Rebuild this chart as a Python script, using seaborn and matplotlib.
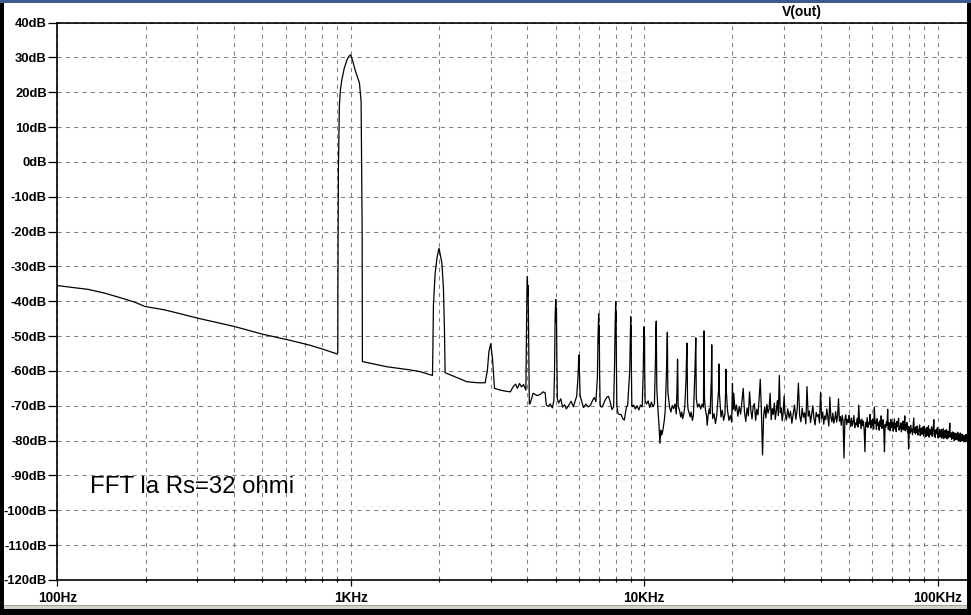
import numpy as np
import pandas as pd
import matplotlib
matplotlib.use("Agg")
import matplotlib.pyplot as plt
from matplotlib.patches import Rectangle
from matplotlib.ticker import FixedLocator, NullFormatter
import seaborn as sns

# ---------------- data ----------------
# low / mid frequency part : frequency (Hz) and level (dB)
low_freq = [100, 127.6, 145.4, 165.8, 184, 199, 233, 302.6, 403.6, 497.6, 613, 717.5, 807, 896.6,
            903.6, 904.3, 907.8, 915, 922, 932.6, 950, 970, 985, 1000, 1015, 1035, 1055, 1071, 1085, 1094, 1096,
            1327, 1594, 1724, 1899, 1905, 1914, 1940, 1971, 2000, 2045, 2070, 2087, 2098,
            2126, 2488, 2719, 2872, 2924, 2957, 3000, 3045, 3075, 3090,
            3232, 3366, 3500, 3580, 3647, 3700, 3760, 3820, 3880, 3954,
            3970, 3985, 4000, 4012, 4022, 4035, 4050, 4062,
            4090, 4186, 4321, 4425, 4530, 4600, 4640, 4716, 4790, 4866, 4925,
            4950, 4975, 5000, 5012, 5025, 5040, 5060,
            5110, 5200, 5270, 5360, 5430, 5530, 5640, 5740, 5830, 5890,
            5950, 5980, 6000, 6020, 6050,
            6100, 6215, 6330, 6450, 6570, 6670, 6760, 6850,
            6930, 6965, 7000, 7015, 7030, 7050, 7080,
            7120, 7205, 7350, 7470, 7560, 7660, 7770, 7870,
            7930, 7965, 8000, 8012, 8025, 8040, 8070,
            8150, 8250, 8350, 8460, 8560, 8620, 8700, 8790,
            8930, 8970, 9000, 9015, 9030, 9050, 9080,
            9100, 9210, 9330, 9460, 9590, 9720, 9850,
            9930, 9965, 10000, 10015, 10030, 10050,
            10080, 10190, 10320, 10450, 10590, 10720, 10840,
            10930, 10965, 11000, 11020, 11045,
            11150, 11240, 11320, 11400, 11480, 11560, 11720, 11800,
            11920, 12000, 12020, 12045,
            12210, 12340, 12470, 12600, 12740, 12870,
            12950, 13000, 13030, 13060,
            13200, 13330, 13430, 13530, 13660, 13760,
            13900, 13950, 14000, 14030, 14060,
            14120, 14350, 14460, 14600, 14720,
            14900, 15000, 15030, 15060,
            15210, 15400, 15590, 15760, 15930,
            15960, 16000, 16030, 16060,
            16190, 16320, 16400, 16520, 16650, 16780,
            16950, 17000, 17030, 17060,
            17130, 17310, 17500, 17680,
            17950, 18000, 18040,
            18280, 18460, 18660, 18860,
            18950, 19000, 19040,
            19240, 19460, 19670, 19880, 20000, 20080]
low_db = [-35.5, -36.6, -37.7, -39.1, -40.3, -41.5, -42.5, -44.9, -47.3, -49.4, -51.1, -52.5, -53.8, -55.1,
          -54.8, -37.2, -2.3, 16.3, 20.5, 23.5, 26.8, 29.2, 30.3, 30.7, 29.0, 26.4, 24.3, 22.6, 17.3, -20.4, -57.3,
          -58.8, -59.7, -60.2, -61.3, -54.8, -41.1, -31.9, -27.2, -24.8, -29.0, -36.2, -48.2, -60.5,
          -60.7, -63.1, -63.4, -63.4, -59.7, -54.5, -52.2, -56.8, -62.6, -65.0,
          -65.5, -65.8, -66.0, -64.5, -63.8, -65.0, -63.6, -64.6, -63.9, -65.5,
          -50, -38, -32.9, -38.5, -35.5, -45, -60, -69.5,
          -69.3, -66.4, -67.1, -66.7, -66.0, -66.3, -69.8, -70.2, -69.5, -70.6, -68.5,
          -60, -44, -39.5, -46, -42, -55, -68,
          -69.2, -68, -70.4, -69.7, -70.9, -69.9, -68.7, -70.3, -68.4, -67.3,
          -62, -57, -55.4, -60, -67,
          -68.2, -70.5, -69.5, -70.3, -69.8, -68.5, -67.6, -68.8,
          -62, -50, -43.6, -52, -47, -60, -69.5,
          -70.3, -70.3, -68.5, -67.5, -67.3, -68.8, -71.1, -70.3,
          -58, -47, -40.1, -46, -43, -55, -70,
          -72.3, -72.5, -72.5, -73.7, -74.1, -72.5, -70.4, -69.8,
          -60, -50, -44.4, -50, -47, -60, -70,
          -70.3, -69.8, -70.9, -70.0, -71.2, -69.8, -70.3,
          -60, -52, -47.3, -53, -50, -62,
          -68.6, -69.5, -68.6, -70.5, -69.0, -70.3, -69.5,
          -57, -48, -45.7, -55, -65,
          -71.3, -75.6, -80.8, -77.0, -78.4, -77.5, -74.1, -71.3,
          -60, -48.9, -56, -66,
          -70.4, -71.8, -69.9, -70.8, -69.5, -72.3,
          -64, -56.6, -62, -70,
          -71.3, -73.2, -71.8, -73.7, -72.3, -70.1,
          -62, -56, -52, -60, -69,
          -71, -73.2, -71.8, -74.2, -72.8,
          -60, -50.5, -58, -68,
          -70.4, -69.5, -70.9, -69.5, -70.4,
          -58, -48.5, -56, -68,
          -71.3, -72.8, -75.6, -72.8, -70.9, -72.3,
          -62, -52.5, -60, -70,
          -73.7, -72.3, -75.1, -72.8,
          -65, -58, -66,
          -73.2, -71.3, -74.2, -72.3,
          -66, -59.5, -65,
          -71.3, -74.2, -72.8, -74.7, -63.6, -71]

# high frequency noise floor, linear FFT bins between start/stop (Hz)
seg1_range = (20200, 30000)
seg1_db = [-66.4, -71.5, -69.8, -73.0, -70.2, -72.4, -68.9, -65.0, -71.8, -74.5, -70.6, -72.9,
           -66.0, -71.2, -73.8, -70.1, -69.4, -74.2, -71.0, -72.6, -68.0, -62.4, -71.5, -84.1,
           -72.8, -70.3, -73.5, -69.6, -72.1, -71.0, -66.4, -74.0, -70.8, -72.5, -69.2, -73.9,
           -71.4, -68.5, -72.8, -61.3, -72.0, -70.6, -74.3, -71.9, -67.2]
seg2_range = (30200, 50000)
seg2_db = [-72.0, -74.1, -70.9, -73.5, -71.6, -75.0, -72.3, -69.8, -73.9, -71.2, -63.5, -72.8,
           -74.6, -70.7, -73.3, -72.0, -75.2, -64.5, -73.0, -71.5, -74.8, -72.4, -70.0, -73.7,
           -75.5, -71.9, -73.1, -72.5, -74.9, -66.1, -73.6, -71.8, -75.3, -72.9, -74.0, -70.9,
           -73.4, -75.8, -67.5, -73.2, -74.6, -72.1, -75.0, -73.8, -71.7, -74.7, -72.9, -68.0,
           -74.4, -73.1, -75.6, -72.8, -74.3, -85.0, -74.0, -72.6, -75.4, -73.9, -74.8, -72.7]
seg3_range = (50200, 80000)
seg3_db = [-74.2, -76.0, -73.5, -75.8, -74.6, -72.8, -76.3, -74.9, -75.5, -73.6,
           -76.1, -69.8, -75.0, -74.1, -76.6, -73.8, -75.7, -74.4, -76.9, -83.2,
           -74.8, -75.9, -73.4, -76.2, -74.7, -75.3, -72.5, -76.4, -74.2, -75.8,
           -73.9, -76.7, -70.5, -75.1, -74.5, -76.8, -73.7, -75.6, -74.9, -77.0,
           -74.3, -75.9, -72.9, -76.5, -75.0, -74.0, -77.1, -83.2, -75.4, -76.2,
           -74.6, -75.7, -71.0, -76.8, -74.8, -75.5, -77.2, -73.9, -76.3, -75.1,
           -74.7, -77.3, -75.8, -73.8, -76.6, -75.2, -77.4, -74.5, -76.0, -75.6,
           -73.6, -77.0, -75.9, -76.4, -74.9, -77.5, -75.3, -76.7, -74.4, -76.9,
           -75.7, -72.9, -77.2, -75.4, -76.8, -74.8, -77.6, -75.9, -82.4, -76.3]
seg4_range = (80200, 127000)
seg4_db = [-76.2, -77.9, -75.6, -77.4, -76.8, -78.3, -75.9, -73.5, -77.7, -76.5,
           -78.1, -76.0, -77.6, -75.8, -78.4, -76.9, -77.2, -75.5, -78.6, -77.0,
           -76.4, -78.2, -77.5, -76.1, -78.7, -75.9, -77.8, -76.6, -78.9, -77.3,
           -76.2, -78.5, -77.0, -75.7, -79.0, -77.6, -76.8, -78.3, -77.1, -76.0,
           -78.8, -77.4, -76.5, -74.0, -78.6, -77.2, -79.1, -76.9, -78.0, -77.5,
           -76.3, -79.2, -77.8, -78.4, -76.7, -79.0, -77.3, -78.6, -76.8, -79.3,
           -77.9, -78.2, -76.6, -79.4, -77.7, -78.9, -77.0, -79.1, -78.3, -76.9,
           -79.5, -78.0, -77.4, -79.2, -78.6, -77.1, -75.0, -79.0, -78.1, -77.8,
           -79.6, -78.4, -77.5, -79.3, -78.8, -77.7, -80.0, -78.2, -79.1, -77.9,
           -79.7, -78.5, -78.0, -79.8, -77.6, -79.4, -78.7, -80.1, -78.3, -79.0,
           -77.8, -80.2, -78.9, -79.5, -78.1, -80.0, -79.2, -78.4, -80.3, -78.8,
           -79.6, -78.6, -80.4, -79.0, -78.2, -80.1, -79.3, -78.9, -80.5, -79.4]

y_ticks = list(range(-120, 41, 10))
y_labels = [f"{v}dB" for v in y_ticks]
x_ticks = [100, 1000, 10000, 100000]
x_labels = ["100Hz", "1KHz", "10KHz", "100KHz"]
trace_name = "V(out)"
note_text = "FFT la Rs=32 ohmi"

# ---------------- assemble ----------------
freqs = list(low_freq)
dbs = list(low_db)
for rng, vals in [(seg1_range, seg1_db), (seg2_range, seg2_db),
                  (seg3_range, seg3_db), (seg4_range, seg4_db)]:
    freqs += list(np.linspace(rng[0], rng[1], len(vals)))
    dbs += list(vals)
df = pd.DataFrame({"freq": freqs, "db": dbs})

W, H = 971, 615
fig = plt.figure(figsize=(W / 100, H / 100), dpi=100)
fig.patch.set_facecolor("white")

x0, x1, yt, yb = 57.3, 968.0, 22.5, 580.0
ax = fig.add_axes([x0 / W, 1 - yb / H, (x1 - x0) / W, (yb - yt) / H])
ax.set_facecolor("white")

sns.lineplot(data=df, x="freq", y="db", ax=ax, color="black", linewidth=0.9,
             sort=False, estimator=None, legend=False)

ax.set_xscale("log")
ax.set_xlim(100, 127000)
ax.set_ylim(-120, 40)
ax.set_xlabel("")
ax.set_ylabel("")

ax.xaxis.set_major_locator(FixedLocator(x_ticks))
ax.set_xticklabels(x_labels)
minors = [k * 10 ** d for d in (2, 3, 4) for k in range(2, 10)]
ax.xaxis.set_minor_locator(FixedLocator(minors))
ax.xaxis.set_minor_formatter(NullFormatter())
ax.set_yticks(y_ticks)
ax.set_yticklabels(y_labels)

grid_kw = dict(color="#808080", linestyle=(0, (4, 4)), linewidth=0.75)
ax.grid(True, which="major", axis="both", **grid_kw)
ax.grid(True, which="minor", axis="x", **grid_kw)
ax.set_axisbelow(True)

for s in ax.spines.values():
    s.set_color("black")
    s.set_linewidth(1.2)
ax.spines["right"].set_visible(False)

lab_font = dict(family="Liberation Sans", weight="bold")
ax.tick_params(axis="y", which="major", direction="out", length=6.5, width=0.9,
               pad=1, labelsize=9.4, colors="black")
ax.tick_params(axis="x", which="major", direction="out", length=4.5, width=0.9,
               pad=3.2, labelsize=9.8, colors="black")
ax.tick_params(axis="x", which="minor", direction="inout", length=3.5, width=0.8)
for t in ax.get_xticklabels() + ax.get_yticklabels():
    t.set_fontfamily("Liberation Sans")
    t.set_fontweight("bold")

fig.text(802 / W, 1 - 12 / H, trace_name, ha="center", va="center",
         fontsize=10, **lab_font)
fig.text(90 / W, 1 - 487 / H, note_text, ha="left", va="center",
         fontsize=17.3, family="Liberation Sans", color="black")

# window frame decorations
def prect(x, y, w, h, color):
    fig.patches.append(Rectangle((x / W, 1 - (y + h) / H), w / W, h / H,
                                 transform=fig.transFigure, color=color,
                                 zorder=10, linewidth=0))

prect(0, 0, W, 3, "#3b5b8e")
prect(0, 3, 4, H - 3, "black")
prect(967, 3, 4, H - 3, "black")
prect(4, 605, 963, 4, "#d4d0c8")
prect(4, 605, 963, 1, "#a0a0a0")
prect(0, 609, W, 6, "black")

fig.savefig("out.png", dpi=100, facecolor="white")
